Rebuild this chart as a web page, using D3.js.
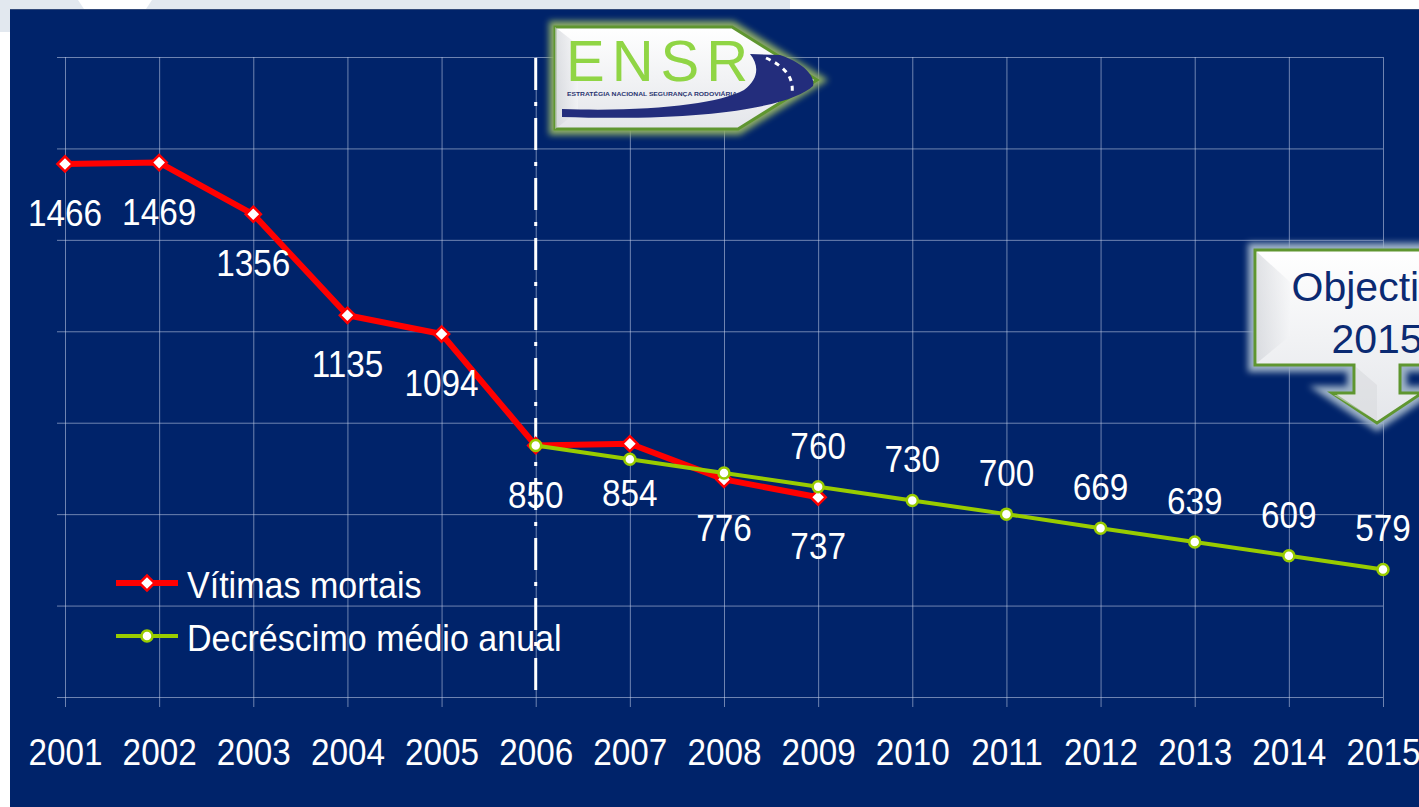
<!DOCTYPE html>
<html><head><meta charset="utf-8">
<script src="https://cdn.jsdelivr.net/npm/d3@7"></script>
<style>body{margin:0;background:#fff;overflow:hidden}</style>
</head><body><svg id="c" width="1419" height="807"></svg>
<script>
// ---- data ----
const years = [2001,2002,2003,2004,2005,2006,2007,2008,2009,2010,2011,2012,2013,2014,2015];
const vitimasYears = [2001,2002,2003,2004,2005,2006,2007,2008,2009];
const vitimas = [1466,1469,1356,1135,1094,850,854,776,737];
const decrescimoYears = [2006,2007,2008,2009,2010,2011,2012,2013,2014,2015];
const decrescimo = [850,820,790,760,730,700,669,639,609,579];
const decrescimoLabelYears = [2009,2010,2011,2012,2013,2014,2015];
const yTicks = [300,500,700,900,1100,1300,1500,1700];
const seriesNames = ["Vítimas mortais","Decréscimo médio anual"];
const markerYear = 2006;

const FONT = "'Liberation Sans',Arial,sans-serif";
const SX = 0.9; // horizontal condensation of the white labels
const NAVY = "#00236a", RED = "#ff0000", GREEN = "#99cc00";

const svg = d3.select("#c");
const defs = svg.append("defs");
const blur = defs.append("filter").attr("id","glow").attr("x","-20%").attr("y","-30%").attr("width","140%").attr("height","160%");
blur.append("feGaussianBlur").attr("stdDeviation",3);
const g1 = defs.append("linearGradient").attr("id","wgrad").attr("x1",0).attr("y1",0).attr("x2",0).attr("y2",1);
g1.append("stop").attr("offset","0%").attr("stop-color","#ffffff");
g1.append("stop").attr("offset","100%").attr("stop-color","#e4e6ea");
const g2 = defs.append("linearGradient").attr("id","bevel").attr("x1",0).attr("y1",0).attr("x2",1).attr("y2",0);
g2.append("stop").attr("offset","0%").attr("stop-color","#c9ccd2");
g2.append("stop").attr("offset","100%").attr("stop-color","#f4f5f7");

// page background
svg.append("rect").attr("x",0).attr("y",0).attr("width",790).attr("height",9).attr("fill","#e2e8ef");
svg.append("path").attr("d","M78,0 L152,0 L146,9 L84,9 Z").attr("fill","#ffffff");
svg.append("rect").attr("x",0).attr("y",0).attr("width",10).attr("height",32).attr("fill","#e2e8ef");
svg.append("rect").attr("x",10).attr("y",9).attr("width",1409).attr("height",798).attr("fill",NAVY);
svg.append("line").attr("x1",10).attr("x2",1419).attr("y1",9.5).attr("y2",9.5).attr("stroke","#334a7a").attr("stroke-width",1);

const x = d3.scaleLinear().domain([2001,2015]).range([65,1383]);
const y = d3.scaleLinear().domain([300,1700]).range([697,57]);

// grid via axes
const gridColor = "rgba(200,212,235,0.55)";
const yAxis = svg.append("g").attr("transform","translate(57,0)")
  .call(d3.axisLeft(y).tickValues(yTicks).tickSize(-(1383-57)).tickFormat(""));
yAxis.select(".domain").remove();
yAxis.selectAll(".tick line").attr("stroke",gridColor).attr("stroke-width",1);

const xAxis = svg.append("g").attr("transform","translate(0,707)")
  .call(d3.axisBottom(x).tickValues(years).tickFormat(d3.format("d")).tickSize(-(707-57)).tickPadding(32));
xAxis.select(".domain").remove();
xAxis.selectAll(".tick line").attr("stroke",gridColor).attr("stroke-width",1);
xAxis.selectAll(".tick text").attr("fill","#ffffff").style("font-family",FONT).style("font-size","37px")
  .attr("transform",`scale(${SX},1)`);

// dash-dot marker line
svg.append("line").attr("x1",x(markerYear)).attr("x2",x(markerYear)).attr("y1",58).attr("y2",690)
  .attr("stroke","#ffffff").attr("stroke-width",3).attr("stroke-dasharray","32,12,4,12");

// ENSR logo
const logoPts = "555,27 732,27 817,80 738,129 555,129";
svg.append("polygon").attr("points",logoPts).attr("fill","none").attr("stroke","#8fae66").attr("stroke-width",12).attr("filter","url(#glow)");
svg.append("polygon").attr("points",logoPts).attr("fill","url(#wgrad)").attr("stroke","#5f9630").attr("stroke-width",3);
svg.append("polygon").attr("points","555,27 578,45 578,112 555,129").attr("fill","url(#bevel)").attr("opacity",0.6);
svg.append("text").attr("x",566).attr("y",81).text("ENSR")
  .attr("fill","#90d545").style("font-family","'Liberation Sans',sans-serif").style("font-size","58px").style("letter-spacing","7px");
svg.append("path").attr("d","M562,109 C650,112 718,104 744,90 C758,80 760,66 750,54 L780,55 C802,62 816,76 813,86 C794,104 720,122 562,117 Z").attr("fill","#232d7c");
svg.append("path").attr("d","M766,58 C786,67 794,78 792,94").attr("fill","none").attr("stroke","#ffffff").attr("stroke-width",3).attr("stroke-dasharray","5,5");
svg.append("text").attr("x",567).attr("y",96).text("ESTRATÉGIA NACIONAL SEGURANÇA RODOVIÁRIA")
  .attr("fill","#2a3470").style("font-family","'Liberation Sans',sans-serif").style("font-size","6px").style("font-weight","bold")
  .attr("textLength",170).attr("lengthAdjust","spacingAndGlyphs");

// Objectivo callout
const calloutD = "M1255,250 H1500 V365 H1400 V393 H1422 L1377,423 L1332,393 H1354 V365 H1255 Z";
svg.append("path").attr("d",calloutD).attr("fill","none").attr("stroke","#9fb3c8").attr("stroke-width",14).attr("filter","url(#glow)");
svg.append("path").attr("d",calloutD).attr("fill","url(#wgrad)").attr("stroke","#5f9630").attr("stroke-width",3);
svg.append("polygon").attr("points","1257,252 1290,282 1290,336 1257,363").attr("fill","url(#bevel)").attr("opacity",0.55);
svg.append("polygon").attr("points","1356,367 1377,385 1377,421 1334,395 1356,395").attr("fill","#d8dade").attr("opacity",0.6);
const objT = svg.append("text").attr("fill","#0b2a72").style("font-family","'Liberation Sans',Arial,sans-serif").style("font-size","41px").attr("text-anchor","middle");
objT.append("tspan").attr("x",1377).attr("y",301).text("Objectivo");
objT.append("tspan").attr("x",1377).attr("y",353).text("2015");

// series
const red = vitimasYears.map((yr,i)=>({year:yr,v:vitimas[i]}));
const green = decrescimoYears.map((yr,i)=>({year:yr,v:decrescimo[i]}));
const line = d3.line().x(d=>x(d.year)).y(d=>y(d.v));
const diamond = d3.symbol().type(d3.symbolSquare).size(115);

svg.append("path").datum(red).attr("d",line).attr("fill","none").attr("stroke",RED).attr("stroke-width",6).attr("stroke-linejoin","round");
svg.selectAll(".rm").data(red).join("path").attr("class","rm")
  .attr("d",diamond).attr("transform",d=>`translate(${x(d.year)},${y(d.v)}) rotate(45)`)
  .attr("fill","#fff").attr("stroke",RED).attr("stroke-width",2.5);

svg.append("path").datum(green).attr("d",line).attr("fill","none").attr("stroke",GREEN).attr("stroke-width",4);
svg.selectAll(".gm").data(green).join("circle").attr("class","gm")
  .attr("cx",d=>x(d.year)).attr("cy",d=>y(d.v)).attr("r",5.5)
  .attr("fill","#fff").attr("stroke",GREEN).attr("stroke-width",2.5);

// labels
const lbl = (sel, dy)=>sel.attr("transform",d=>`translate(${x(d.year)},${y(d.v)+dy}) scale(${SX},1)`)
  .text(d=>d.v).attr("fill","#fff").attr("text-anchor","middle").style("font-family",FONT).style("font-size","37px");
svg.selectAll(".rl").data(red).join("text").attr("class","rl").call(lbl,62);
svg.selectAll(".gl").data(green.filter(d=>decrescimoLabelYears.includes(d.year))).join("text").attr("class","gl").call(lbl,-28);

// legend
const leg = [{name:seriesNames[0],color:RED,type:"d",yy:583,w:6},{name:seriesNames[1],color:GREEN,type:"c",yy:636,w:4}];
leg.forEach(l=>{
  svg.append("line").attr("x1",116).attr("x2",178).attr("y1",l.yy).attr("y2",l.yy).attr("stroke",l.color).attr("stroke-width",l.w);
  if(l.type==="d") svg.append("path").attr("d",diamond).attr("transform",`translate(147,${l.yy}) rotate(45)`).attr("fill","#fff").attr("stroke",RED).attr("stroke-width",2.5);
  else svg.append("circle").attr("cx",147).attr("cy",l.yy).attr("r",5.5).attr("fill","#fff").attr("stroke",GREEN).attr("stroke-width",2.5);
  svg.append("text").attr("transform",`translate(187,${l.yy+15}) scale(0.92,1)`).text(l.name).attr("fill","#fff")
    .style("font-family",FONT).style("font-size","37px");
});
</script></body></html>
